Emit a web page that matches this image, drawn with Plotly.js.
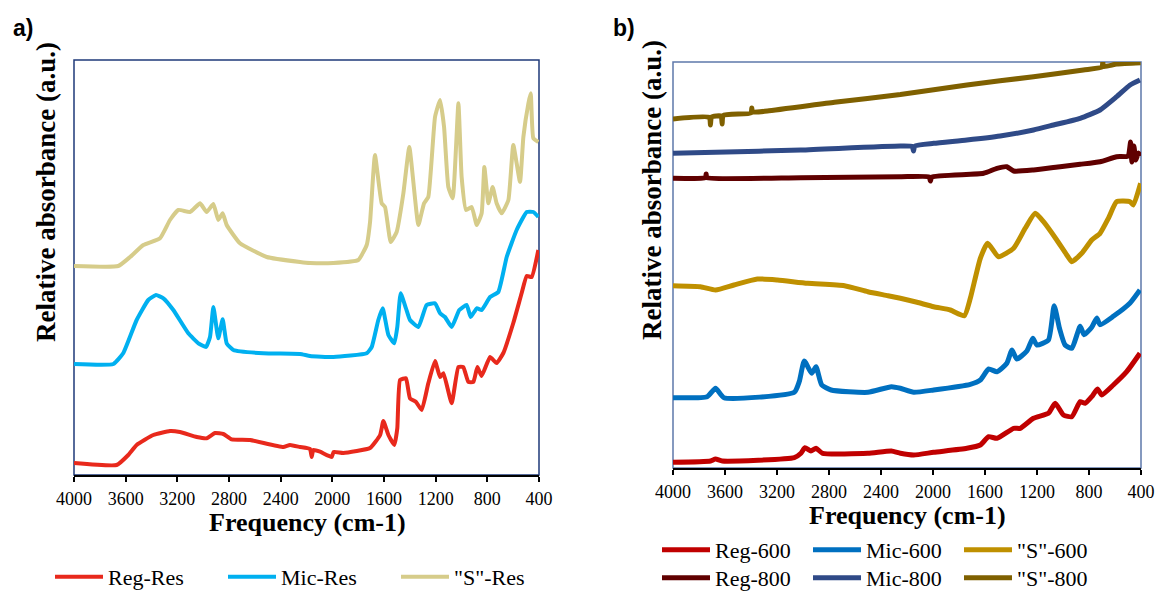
<!DOCTYPE html>
<html>
<head>
<meta charset="utf-8">
<script src="https://cdn.plot.ly/plotly-3.0.1.min.js"></script>
<style>html,body{margin:0;padding:0;background:#fff;}#chart{width:1156px;height:592px;}</style>
</head>
<body>
<div id="chart"></div>
<script>
// ---------- tick labels ----------
const freqTicks = [4000, 3600, 3200, 2800, 2400, 2000, 1600, 1200, 800, 400];
const freqTickText = ['4000', '3600', '3200', '2800', '2400', '2000', '1600', '1200', '800', '400'];

// ---------- panel a) residues ----------
const regResX = [4000,3670,3580,3515,3386,3257,3180,3050,2973,2908,2844,2780,2637,2380,2328,2250,2173,2160,2147,2095,2005,1990,1915,1708,1630,1605,1566,1520,1497,1476,1430,1399,1352,1308,1257,1205,1166,1140,1076,1024,986,947,908,877,844,779,728,676,599,534,495,457,405];
const regResY = [12,10,20,30,40,44,43,38,36.7,42,41,35.7,35,28,30,28,26,18,25,23.3,18,23,22,27,40,54,40,30,46.7,95,96.7,76.7,73,65,91.7,114,98,101.7,71.7,108,108,93,93,108,99,118,112,122,152,182,199,198,225];

const micResX = [4000,3695,3618,3515,3425,3365,3308,3231,3115,3037,2978,2947,2921,2883,2849,2818,2766,2534,2250,2173,1992,1734,1695,1644,1610,1566,1520,1497,1471,1430,1399,1334,1270,1205,1166,1128,1076,1017,960,929,882,844,779,715,650,573,495,444,405];
const micResY = [111,111,122,155,175,180,176.7,165,141.7,131.7,128,138,168,136.7,155.7,131.7,125,121.7,121,119,118,121.7,128,155,166.7,140,131.7,148,181.7,166.7,155,148,170,171.7,161.7,158,148,165,170,158,166.7,165,178,183,218,245,263,263,258];

const sResX = [4000,3657,3566,3463,3334,3257,3192,3102,3024,2973,2921,2883,2849,2818,2715,2508,2250,2173,1992,1799,1734,1708,1670,1618,1592,1548,1502,1450,1404,1334,1290,1257,1205,1166,1135,1102,1068,1024,999,965,921,882,844,823,792,759,728,689,637,599,547,521,482,464,444,405];
const sResY = [209,209,218,230,236.7,255,265,263,271.7,263,271,255,261.7,250,231.7,218,213,212,212,215,230,253,320,271.7,268,233,243,281.7,328,250,271.7,278,358,375,348,288,276.7,371.7,298,265,268,250,261.7,308,271.7,288,271.7,261.7,275,330,293,338,371.7,381.7,336.7,333];

// ---------- panel b) chars ----------
const reg600X = [4000,3711,3673,3621,3067,3016,2985,2939,2900,2849,2501,2320,2251,2148,1995,1739,1636,1572,1508,1380,1329,1227,1112,1060,997,932,868,830,779,735,702,613,510,408];
const reg600Y = [5.7,7,9,7,10.3,14.7,20.3,17,19.7,14.7,14.7,17,14.7,13,15.7,19.7,23,31.3,29.7,39.7,39.7,49.7,54.7,64.7,53,51.3,66.3,64.7,71.3,79,73,83,96.3,114.7];

const mic600X = [4000,3737,3673,3608,3067,3029,2990,2933,2900,2856,2784,2501,2320,2251,2148,1995,1713,1636,1572,1508,1432,1393,1355,1278,1232,1201,1112,1068,1027,984,932,868,838,779,740,715,613,484,408];
const mic600Y = [70.3,71.3,79.7,70.3,75.7,86.3,107,94.7,101.3,83,78,75.7,81.3,79.7,75.7,78,83.7,88,99,96.3,104.7,118,109,117,129.7,123,128,162.3,139.7,123,119.7,141.7,133.3,140.7,150,143.3,151.7,165,178];

const s600X = [4000,3789,3673,3531,3351,3196,2964,2681,2501,2346,2251,2123,1995,1867,1759,1713,1636,1580,1496,1380,1291,1214,1150,1048,971,932,856,779,715,651,587,484,459,403];
const s600Y = [182.3,181.3,178,183,189,188,184.7,182.3,176.3,172.3,169.7,165.7,161.3,158,152.3,169.7,209.7,224.7,211.3,219.7,239.7,254.7,246.3,228,213,206.3,214.7,228,234.7,249.7,266.3,266.3,263,284.7];

const reg800X = [4000,3750,3745,3740,3016,2251,2030,2020,2010,1611,1508,1432,1380,1227,1022,868,715,587,500,480,470,455,440,420,405];
const reg800Y = [289.7,290.5,294,290.5,290.3,291.3,291,287,291,294.7,299.7,301.3,297,298,301.3,303.7,306.3,311.3,312,326,306,322,308,315,312];

const mic800X = [4000,3673,3016,2251,2160,2150,2140,1995,1739,1483,1227,1073,868,715,587,484,408];
const mic800Y = [314.7,315.7,318,322,321.5,317,322,324.7,328,332,338,343,349.7,358,371.3,383,388];

const s800X = [4000,3720,3712,3704,3630,3622,3614,3400,3394,3388,3274,2758,2251,1739,1227,843,700,694,688,587,403];
const s800Y = [349,350.5,343,351,352,344,352.5,355,360,356,357,365.7,373.5,383,391.3,398,401,406,401.5,404,405.3];

// ---------- names & colours ----------
const namesA = ['Reg-Res', 'Mic-Res', '"S"-Res'];
const colorsA = ['#E8291C', '#00B0F0', '#D6CC8A'];
const namesB = ['Reg-600', 'Mic-600', '"S"-600', 'Reg-800', 'Mic-800', '"S"-800'];
const colorsB = ['#C00000', '#0070C0', '#BF9000', '#600000', '#2F4A87', '#7F6000'];

const seriesA = [[regResX, regResY], [micResX, micResY], [sResX, sResY]];
const seriesB = [[reg600X, reg600Y], [mic600X, mic600Y], [s600X, s600Y], [reg800X, reg800Y], [mic800X, mic800Y], [s800X, s800Y]];

const traces = [];
seriesA.forEach((s, i) => traces.push({
  x: s[0], y: s[1], type: 'scatter', mode: 'lines', name: namesA[i],
  xaxis: 'x', yaxis: 'y', legend: 'legend',
  line: {color: colorsA[i], width: 4, shape: 'spline', smoothing: 0.4}
}));
seriesB.forEach((s, i) => traces.push({
  x: s[0], y: s[1], type: 'scatter', mode: 'lines', name: namesB[i],
  xaxis: 'x2', yaxis: 'y2', legend: i < 3 ? 'legend2' : 'legend3',
  line: {color: colorsB[i], width: 5, shape: 'spline', smoothing: 0.5}
}));

const W = 1156, H = 592;
const serif = 'Liberation Serif, Times New Roman, serif';
const tickFont = {family: serif, size: 18, color: '#000'};

function mainX(dom, anchor) {
  return {
    domain: dom, anchor: anchor, range: [4000, 400], tickvals: freqTicks, ticktext: freqTickText,
    ticks: 'outside', ticklen: 5, tickwidth: 2, tickcolor: '#000', showline: true, linecolor: '#000',
    linewidth: 2, showgrid: false, zeroline: false, tickfont: tickFont, ticklabelstandoff: 1,
    automargin: false
  };
}
function overX(over, anchor) {
  return {
    overlaying: over, anchor: anchor, range: [4000, 400], tickvals: freqTicks,
    ticks: 'inside', ticklen: 5, tickwidth: 2, tickcolor: '#000', showticklabels: false,
    showline: false, showgrid: false, zeroline: false, automargin: false
  };
}
function plainY(dom, anchor, rng) {
  return {domain: dom, anchor: anchor, range: rng, showticklabels: false, ticks: '',
          showgrid: false, zeroline: false, showline: false, automargin: false};
}

const legendBase = {
  orientation: 'h', xanchor: 'left', yanchor: 'middle', bgcolor: 'rgba(0,0,0,0)',
  font: {family: serif, size: 22, color: '#000'}, entrywidthmode: 'pixels', itemwidth: 48,
  tracegroupgap: 0
};

const layout = {
  width: W, height: H, margin: {l: 0, r: 0, t: 0, b: 0, pad: 0, autoexpand: false},
  paper_bgcolor: '#fff', plot_bgcolor: 'rgba(0,0,0,0)', showlegend: true,
  xaxis: mainX([74 / W, 539 / W], 'y'),
  yaxis: plainY([(H - 475) / H, (H - 60) / H], 'x', [0, 415]),
  xaxis2: mainX([673 / W, 1141 / W], 'y2'),
  yaxis2: plainY([(H - 468) / H, (H - 62) / H], 'x2', [0, 406]),
  xaxis3: overX('x', 'y'),
  xaxis4: overX('x2', 'y2'),
  legend: Object.assign({}, legendBase, {x: 50 / W, y: 1 - 577 / H, entrywidth: 110}),
  legend2: Object.assign({}, legendBase, {x: 657 / W, y: 1 - 550 / H, entrywidth: 88}),
  legend3: Object.assign({}, legendBase, {x: 657 / W, y: 1 - 578 / H, entrywidth: 88}),
  shapes: [
    {type: 'rect', xref: 'x domain', yref: 'y domain', x0: 0, x1: 1, y0: 0, y1: 1,
     line: {color: '#1F3A7A', width: 1.5}, layer: 'below'},
    {type: 'rect', xref: 'x2 domain', yref: 'y2 domain', x0: 0, x1: 1, y0: 0, y1: 1,
     line: {color: '#5E78AA', width: 1.5}, layer: 'below'}
  ],
  annotations: [
    {text: '<b>a)</b>', xref: 'paper', yref: 'paper', x: 11 / W, y: 1 - 28 / H, xanchor: 'left', yanchor: 'middle',
     showarrow: false, font: {family: 'Liberation Sans, Arial, sans-serif', size: 23, color: '#000'}},
    {text: '<b>b)</b>', xref: 'paper', yref: 'paper', x: 611 / W, y: 1 - 28 / H, xanchor: 'left', yanchor: 'middle',
     showarrow: false, font: {family: 'Liberation Sans, Arial, sans-serif', size: 23, color: '#000'}},
    {text: '<b>Relative absorbance (a.u.)</b>', xref: 'paper', yref: 'paper', x: 46 / W, y: 1 - 192 / H,
     xanchor: 'center', yanchor: 'middle', textangle: -90, showarrow: false,
     font: {family: serif, size: 27, color: '#000'}},
    {text: '<b>Relative absorbance (a.u.)</b>', xref: 'paper', yref: 'paper', x: 652 / W, y: 1 - 190 / H,
     xanchor: 'center', yanchor: 'middle', textangle: -90, showarrow: false,
     font: {family: serif, size: 27, color: '#000'}},
    {text: '<b>Frequency (cm-1)</b>', xref: 'paper', yref: 'paper', x: 307 / W, y: 1 - 522 / H,
     xanchor: 'center', yanchor: 'middle', showarrow: false, font: {family: serif, size: 26, color: '#000'}},
    {text: '<b>Frequency (cm-1)</b>', xref: 'paper', yref: 'paper', x: 907 / W, y: 1 - 515 / H,
     xanchor: 'center', yanchor: 'middle', showarrow: false, font: {family: serif, size: 26, color: '#000'}}
  ]
};

Plotly.newPlot('chart', traces, layout, {displayModeBar: false, staticPlot: true});
</script>
</body>
</html>
